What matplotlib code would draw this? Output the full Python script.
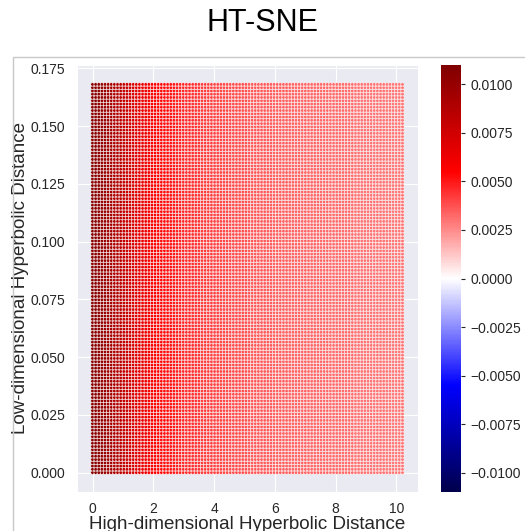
import numpy as np
import seaborn as sns
from matplotlib import pyplot as plt
from matplotlib.patches import Rectangle

# grid of sampled distance pairs
high_dist = np.linspace(0, 10.2, 100)
low_dist = np.linspace(0, 0.168, 120)

# gradient value for each column of high-dimensional distance
grad_by_column = [
    0.0106, 0.0105, 0.0103, 0.0101, 0.0099, 0.0096, 0.0093, 0.0090, 0.0087, 0.0084,
    0.0081, 0.0078, 0.0075, 0.0072, 0.0069, 0.0066, 0.0064, 0.0062, 0.0060, 0.0058,
    0.0056, 0.0054, 0.0053, 0.0052, 0.0051, 0.0050, 0.0049, 0.0048, 0.0047, 0.0046,
    0.0045, 0.0045, 0.0044, 0.0043, 0.0043, 0.0042, 0.0042, 0.0041, 0.0041, 0.0040,
    0.0040, 0.0039, 0.0039, 0.0039, 0.0038, 0.0038, 0.0038, 0.0037, 0.0037, 0.0037,
    0.0036, 0.0036, 0.0036, 0.0036, 0.0035, 0.0035, 0.0035, 0.0035, 0.0034, 0.0034,
    0.0034, 0.0034, 0.0034, 0.0033, 0.0033, 0.0033, 0.0033, 0.0033, 0.0033, 0.0032,
    0.0032, 0.0032, 0.0032, 0.0032, 0.0032, 0.0032, 0.0031, 0.0031, 0.0031, 0.0031,
    0.0031, 0.0031, 0.0031, 0.0031, 0.0030, 0.0030, 0.0030, 0.0030, 0.0030, 0.0030,
    0.0030, 0.0030, 0.0030, 0.0030, 0.0029, 0.0029, 0.0029, 0.0029, 0.0029, 0.0029,
]

sns.set_style("darkgrid")
plt.rcParams['font.family'] = ['Liberation Sans', 'DejaVu Sans']

fig = plt.figure(figsize=(5.25, 5.31), dpi=100)
fig.patches.append(Rectangle((13 / 525, -0.1), 1.2, 1.1 - 57 / 531, transform=fig.transFigure,
                             fill=False, edgecolor='#c8c8c8', linewidth=1.0))
fig.text(0.5, 0.956, "HT-SNE", ha='center', va='center', fontsize=22, color='black')

ax = fig.add_axes([77 / 525, 39 / 531, 341 / 525, 427 / 531])
cax = fig.add_axes([441 / 525, 39 / 531, 20 / 525, 427 / 531])

xx, yy = np.meshgrid(high_dist, low_dist)
cc = np.tile(np.array(grad_by_column), (len(low_dist), 1))

sc = ax.scatter(xx.ravel(), yy.ravel(), c=cc.ravel(), cmap='seismic', vmin=-0.011, vmax=0.011,
                s=6, edgecolors='white', linewidths=0.3)
ax.set_xticks([0, 2, 4, 6, 8, 10])
ax.set_yticks(np.arange(0, 0.176, 0.025))
ax.set_yticklabels(["%.3f" % v for v in np.arange(0, 0.176, 0.025)])
ax.tick_params(labelsize=10, colors='.15')
ax.tick_params(axis='x', pad=4)
ax.tick_params(axis='y', pad=5)
ax.set_xlabel("High-dimensional Hyperbolic Distance", fontsize=13.5, labelpad=0)
ax.set_ylabel("Low-dimensional Hyperbolic Distance", fontsize=13.5, labelpad=1)

cb = fig.colorbar(sc, cax=cax)
cb.outline.set_visible(False)
cb.set_ticks([-0.01, -0.0075, -0.005, -0.0025, 0, 0.0025, 0.005, 0.0075, 0.01])
cb.ax.tick_params(labelsize=10, length=3, width=0.8, colors='.15')

fig.savefig("out.png", dpi=100)
